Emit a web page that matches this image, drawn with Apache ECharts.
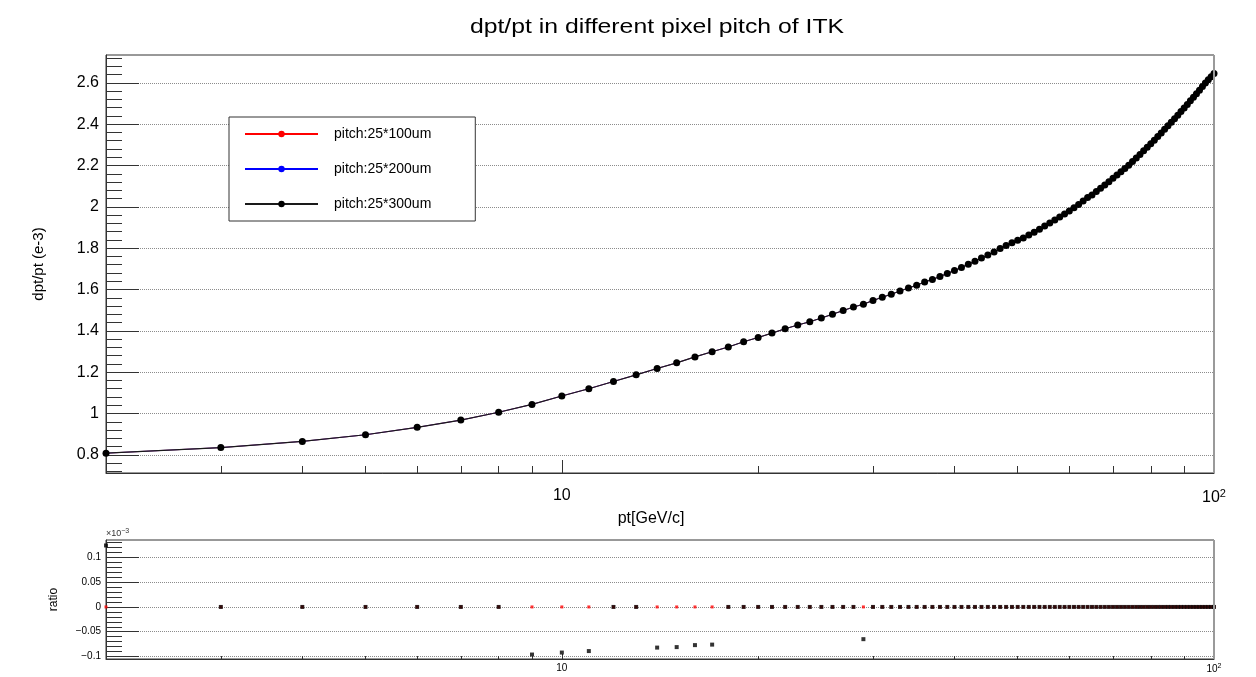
<!DOCTYPE html>
<html>
<head>
<meta charset="utf-8">
<title>dpt/pt in different pixel pitch of ITK</title>
<script src="https://cdn.jsdelivr.net/npm/echarts@6/dist/echarts.min.js"></script>
<style>
  html, body { margin: 0; padding: 0; background: #fff; }
  #chart { width: 1256px; height: 677px; }
</style>
</head>
<body>
<div id="chart"></div>
<script>
// Transverse momentum points (GeV/c)
const pt = [
  2, 3, 4, 5, 6, 7, 8, 9, 10, 11, 12, 13, 14, 15, 16, 17, 18, 19, 20,
  21, 22, 23, 24, 25, 26, 27, 28, 29, 30, 31, 32, 33, 34, 35, 36, 37, 38, 39, 40,
  41, 42, 43, 44, 45, 46, 47, 48, 49, 50, 51, 52, 53, 54, 55, 56, 57, 58, 59, 60,
  61, 62, 63, 64, 65, 66, 67, 68, 69, 70, 71, 72, 73, 74, 75, 76, 77, 78, 79, 80,
  81, 82, 83, 84, 85, 86, 87, 88, 89, 90, 91, 92, 93, 94, 95, 96, 97, 98, 99, 100
];

// Momentum resolution dpt/pt (units of 1e-3); the three pitches agree at this scale
const dptpt = [
  0.808, 0.835, 0.865, 0.897, 0.933, 0.968, 1.006, 1.044, 1.085, 1.120,
  1.155, 1.187, 1.218, 1.245, 1.274, 1.299, 1.322, 1.347, 1.368,
  1.389, 1.410, 1.428, 1.444, 1.462, 1.480, 1.498, 1.515, 1.529, 1.547,
  1.563, 1.577, 1.593, 1.607, 1.621, 1.636, 1.649, 1.663, 1.678, 1.692,
  1.707, 1.722, 1.737, 1.752, 1.767, 1.782, 1.798, 1.813, 1.826, 1.838,
  1.849, 1.864, 1.877, 1.892, 1.908, 1.922, 1.937, 1.951, 1.966, 1.980,
  1.996, 2.012, 2.028, 2.045, 2.058, 2.074, 2.090, 2.106, 2.122, 2.138,
  2.154, 2.170, 2.186, 2.202, 2.219, 2.237, 2.254, 2.271, 2.289, 2.306,
  2.323, 2.341, 2.358, 2.376, 2.393, 2.410, 2.427, 2.444, 2.461, 2.478,
  2.495, 2.513, 2.530, 2.548, 2.565, 2.583, 2.600, 2.615, 2.630, 2.645
];
const dpt100 = dptpt;
const dpt200 = dptpt;
const dpt300 = dptpt;

// Relative differences between pitches (units of 1e-3)
const ratioRed = [
  0, 0, 0, 0, 0, 0, 0, 0, 0, 0, 0, 0, 0, 0, 0, 0, 0, 0, 0,
  0, 0, 0, 0, 0, 0, 0, 0, 0, 0, 0, 0, 0, 0, 0, 0, 0, 0, 0, 0,
  0, 0, 0, 0, 0, 0, 0, 0, 0, 0, 0, 0, 0, 0, 0, 0, 0, 0, 0, 0,
  0, 0, 0, 0, 0, 0, 0, 0, 0, 0, 0, 0, 0, 0, 0, 0, 0, 0, 0, 0,
  0, 0, 0, 0, 0, 0, 0, 0, 0, 0, 0, 0, 0, 0, 0, 0, 0, 0, 0, 0
];
const ratioBlack = [
  0.124, 0, 0, 0, 0, 0, 0, -0.096, -0.092, -0.089, 0, 0, -0.082, -0.081, -0.077, -0.076, 0, 0, 0,
  0, 0, 0, 0, 0, 0, 0, 0, -0.065, 0, 0, 0, 0, 0, 0, 0, 0, 0, 0, 0,
  0, 0, 0, 0, 0, 0, 0, 0, 0, 0, 0, 0, 0, 0, 0, 0, 0, 0, 0, 0,
  0, 0, 0, 0, 0, 0, 0, 0, 0, 0, 0, 0, 0, 0, 0, 0, 0, 0, 0, 0,
  0, 0, 0, 0, 0, 0, 0, 0, 0, 0, 0, 0, 0, 0, 0, 0, 0, 0, 0, 0
];

const seriesNames = ['pitch:25*100um', 'pitch:25*200um', 'pitch:25*300um'];

// Axis tick values
const xMajor = [10, 100];
const xMinor = [3, 4, 5, 6, 7, 8, 9, 20, 30, 40, 50, 60, 70, 80, 90];
const yMajor = [0.8, 1, 1.2, 1.4, 1.6, 1.8, 2, 2.2, 2.4, 2.6];
const rMajor = [-0.1, -0.05, 0, 0.05, 0.1];

function minorTicks(from, to, step, majors) {
  const out = [];
  const n = Math.round((to - from) / step);
  for (let i = 0; i <= n; i++) {
    const v = Math.round((from + i * step) * 1000) / 1000;
    if (!majors.some(m => Math.abs(m - v) < 1e-9)) out.push(v);
  }
  return out;
}
const yMinor = minorTicks(0.72, 2.72, 0.04, yMajor);
const rMinor = minorTicks(-0.1, 0.13, 0.01, rMajor);

const FONT = 'Liberation Sans, Arial, Helvetica, sans-serif';
const AXIS_COLOR = '#333';

const MAIN = { left: 106, top: 55, width: 1108, height: 418 };
const RATIO = { left: 106, top: 540, width: 1108, height: 119 };

function pairs(ys) { return pt.map((p, i) => [p, ys[i]]); }

function logXAxis(grid, major, opts) {
  return Object.assign({
    gridIndex: grid,
    type: 'log',
    logBase: 10,
    min: 2,
    max: 100,
    position: 'bottom',
    axisLine: { show: major, onZero: false, lineStyle: { color: AXIS_COLOR, width: 1 } },
    splitLine: { show: false },
    minorTick: { show: false },
    minorSplitLine: { show: false }
  }, opts);
}

function sup(v) {
  return v === 100 ? '{b|10}{s|2}' : '{b|10}';
}

const chart = echarts.init(document.getElementById('chart'), null, { renderer: 'canvas' });

chart.setOption({
  animation: false,
  backgroundColor: '#fff',
  grid: [
    Object.assign({ show: true, borderColor: AXIS_COLOR, borderWidth: 1, backgroundColor: 'transparent' }, MAIN),
    Object.assign({ show: true, borderColor: AXIS_COLOR, borderWidth: 1, backgroundColor: 'transparent' }, RATIO)
  ],
  graphic: [
    {
      type: 'text', x: 657, y: 27, scaleX: 1.18, z: 10,
      style: {
        text: 'dpt/pt in different pixel pitch of ITK',
        font: '21px ' + FONT, fill: '#000',
        textAlign: 'center', textVerticalAlign: 'middle'
      }
    },
    {
      type: 'text', x: 106, y: 534, z: 10,
      style: {
        text: '×10{s|−3}',
        font: '9px ' + FONT, fill: '#333',
        textAlign: 'left', textVerticalAlign: 'middle',
        rich: { s: { fontSize: 7, padding: [0, 0, 6, 0], fontFamily: FONT, fill: '#333' } }
      }
    },
    {
      type: 'line', z: 10, silent: true,
      shape: { x1: 1214, y1: 55, x2: 1214, y2: 473 },
      style: { stroke: '#9a9a9a', lineWidth: 2 }
    },
    {
      type: 'line', z: 10, silent: true,
      shape: { x1: 1214, y1: 540, x2: 1214, y2: 659 },
      style: { stroke: '#9a9a9a', lineWidth: 2 }
    }
  ],
  legend: {
    data: seriesNames,
    orient: 'vertical',
    left: 229,
    top: 117,
    backgroundColor: '#fff',
    borderColor: AXIS_COLOR,
    borderWidth: 1,
    borderRadius: 0,
    padding: [10, 44, 10, 15],
    itemWidth: 73,
    itemHeight: 8,
    itemGap: 21,
    textStyle: { fontFamily: FONT, fontSize: 14, color: '#000', padding: [0, 0, 0, 11] }
  },
  xAxis: [
    logXAxis(0, true, {
      axisTick: { show: true, inside: true, length: 13, customValues: xMajor, lineStyle: { color: AXIS_COLOR } },
      axisLabel: {
        show: true, customValues: xMajor, margin: 15,
        formatter: v => sup(v),
        rich: {
          b: { fontFamily: FONT, fontSize: 16, color: '#000' },
          s: { fontFamily: FONT, fontSize: 11, color: '#000', padding: [0, 0, 9, 0] }
        }
      },
      name: 'pt[GeV/c]',
      nameLocation: 'middle',
      nameGap: 22,
      nameTextStyle: { fontFamily: FONT, fontSize: 16, color: '#000', padding: [0, 18, 0, 0] }
    }),
    logXAxis(0, false, {
      axisTick: { show: true, inside: true, length: 7, customValues: xMinor, lineStyle: { color: AXIS_COLOR } },
      axisLabel: { show: false }
    }),
    logXAxis(1, true, {
      axisTick: { show: true, inside: true, length: 5, customValues: xMajor, lineStyle: { color: AXIS_COLOR } },
      axisLabel: {
        show: true, customValues: xMajor, margin: 4,
        formatter: v => sup(v),
        rich: {
          b: { fontFamily: FONT, fontSize: 10, color: '#000' },
          s: { fontFamily: FONT, fontSize: 7, color: '#000', padding: [0, 0, 6, 0] }
        }
      }
    }),
    logXAxis(1, false, {
      axisTick: { show: true, inside: true, length: 3, customValues: xMinor, lineStyle: { color: AXIS_COLOR } },
      axisLabel: { show: false }
    })
  ],
  yAxis: [
    {
      gridIndex: 0, type: 'value', min: 0.712, max: 2.735, position: 'left',
      axisLine: { show: true, onZero: false, lineStyle: { color: AXIS_COLOR } },
      axisTick: { show: true, inside: true, length: 33, customValues: yMajor, lineStyle: { color: AXIS_COLOR } },
      axisLabel: {
        show: true, customValues: yMajor, margin: 7,
        fontFamily: FONT, fontSize: 16, color: '#000',
        formatter: v => String(Math.round(v * 10) / 10)
      },
      splitLine: { show: true, lineStyle: { color: '#8c8c8c', type: [1, 1], width: 1 } },
      name: 'dpt/pt (e-3)',
      nameLocation: 'middle',
      nameRotate: 90,
      nameGap: 60,
      nameTextStyle: { fontFamily: FONT, fontSize: 15, color: '#000' }
    },
    {
      gridIndex: 0, type: 'value', min: 0.712, max: 2.735, position: 'left',
      axisLine: { show: false, onZero: false },
      axisTick: { show: true, inside: true, length: 16, customValues: yMinor, lineStyle: { color: AXIS_COLOR } },
      axisLabel: { show: false },
      splitLine: { show: false }
    },
    {
      gridIndex: 1, type: 'value', min: -0.105, max: 0.135, position: 'left',
      axisLine: { show: true, onZero: false, lineStyle: { color: AXIS_COLOR } },
      axisTick: { show: true, inside: true, length: 33, customValues: rMajor, lineStyle: { color: AXIS_COLOR } },
      axisLabel: {
        show: true, customValues: rMajor, margin: 5,
        fontFamily: FONT, fontSize: 10, color: '#000',
        formatter: v => (Math.abs(v) < 1e-9 ? '0' : String(Math.round(v * 100) / 100).replace('-', '\u2212'))
      },
      splitLine: { show: true, lineStyle: { color: '#8c8c8c', type: [1, 1], width: 1 } },
      name: 'ratio',
      nameLocation: 'middle',
      nameRotate: 90,
      nameGap: 46,
      nameTextStyle: { fontFamily: FONT, fontSize: 12, color: '#000' }
    },
    {
      gridIndex: 1, type: 'value', min: -0.105, max: 0.135, position: 'left',
      axisLine: { show: false, onZero: false },
      axisTick: { show: true, inside: true, length: 16, customValues: rMinor, lineStyle: { color: AXIS_COLOR } },
      axisLabel: { show: false },
      splitLine: { show: false }
    }
  ],
  series: [
    {
      name: seriesNames[0], type: 'line', xAxisIndex: 0, yAxisIndex: 0,
      data: pairs(dpt100), symbol: 'circle', symbolSize: 5, showSymbol: true,
      color: '#ff0000', lineStyle: { color: '#ff0000', width: 0.6 }, itemStyle: { color: '#ff0000' },
      z: 2
    },
    {
      name: seriesNames[1], type: 'line', xAxisIndex: 0, yAxisIndex: 0,
      data: pairs(dpt200), symbol: 'circle', symbolSize: 5, showSymbol: true,
      color: '#0000ff', lineStyle: { color: '#0000ff', width: 0.6 }, itemStyle: { color: '#0000ff' },
      z: 3
    },
    {
      name: seriesNames[2], type: 'line', xAxisIndex: 0, yAxisIndex: 0,
      data: pairs(dpt300), symbol: 'circle', symbolSize: 7, showSymbol: true,
      color: '#000000', lineStyle: { color: '#1a1a1a', width: 1.1 }, itemStyle: { color: '#000000' },
      z: 4
    },
    {
      name: 'ratio 100', type: 'scatter', xAxisIndex: 2, yAxisIndex: 2,
      data: pairs(ratioRed), symbol: 'rect', symbolSize: 3,
      itemStyle: { color: '#ff0000' }, z: 2
    },
    {
      name: 'ratio 300', type: 'scatter', xAxisIndex: 2, yAxisIndex: 2,
      data: pairs(ratioBlack), symbol: 'rect', symbolSize: 4,
      itemStyle: { color: '#000000' }, z: 3
    }
  ]
});
</script>
</body>
</html>
